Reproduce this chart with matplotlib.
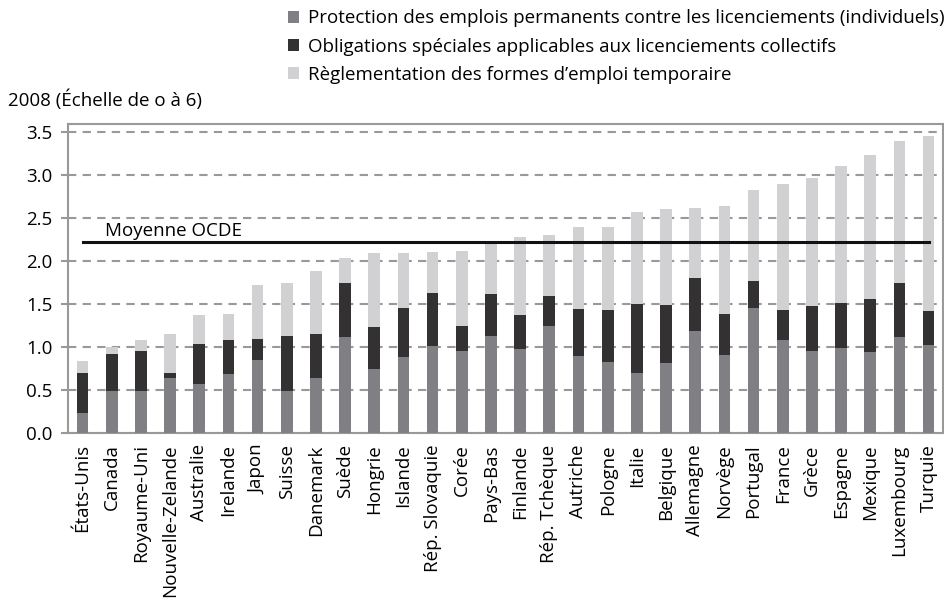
import matplotlib.pyplot as plt

plt.rcParams['font.family'] = ['Open Sans', 'DejaVu Sans']

pays = ["États-Unis", "Canada", "Royaume-Uni", "Nouvelle-Zelande", "Australie",
        "Irelande", "Japon", "Suisse", "Danemark", "Suède", "Hongrie", "Islande",
        "Rép. Slovaquie", "Corée", "Pays-Bas", "Finlande", "Rép. Tchèque",
        "Autriche", "Pologne", "Italie", "Belgique", "Allemagne", "Norvège",
        "Portugal", "France", "Grèce", "Espagne", "Mexique", "Luxembourg", "Turquie"]

# hauteurs cumulées
permanents = [0.23, 0.49, 0.49, 0.64, 0.57, 0.69, 0.85, 0.49, 0.64, 1.12,
              0.75, 0.88, 1.01, 0.95, 1.13, 0.98, 1.24, 0.90, 0.83, 0.70,
              0.81, 1.19, 0.91, 1.46, 1.08, 0.95, 0.99, 0.94, 1.12, 1.03]
cumul_collectifs = [0.70, 0.92, 0.96, 0.70, 1.04, 1.08, 1.09, 1.13, 1.15, 1.74,
                    1.23, 1.45, 1.63, 1.25, 1.62, 1.37, 1.59, 1.44, 1.43, 1.50,
                    1.49, 1.80, 1.39, 1.77, 1.43, 1.48, 1.51, 1.56, 1.75, 1.42]
totaux = [0.84, 1.00, 1.08, 1.15, 1.37, 1.38, 1.72, 1.75, 1.89, 2.04,
          2.09, 2.09, 2.11, 2.12, 2.22, 2.28, 2.30, 2.40, 2.40, 2.57,
          2.60, 2.62, 2.64, 2.83, 2.89, 2.96, 3.11, 3.23, 3.39, 3.45]
moyenne_ocde = 2.22

collectifs = [c - p for c, p in zip(cumul_collectifs, permanents)]
temporaire = [t - c for t, c in zip(totaux, cumul_collectifs)]

series = ["Protection des emplois permanents contre les licenciements (individuels)",
          "Obligations spéciales applicables aux licenciements collectifs",
          "Règlementation des formes d’emploi temporaire"]
couleurs = ["#808084", "#333132", "#d1d1d3"]

fig = plt.figure(figsize=(9.45, 6), dpi=100)
ax = fig.add_axes([0.072, 0.278, 0.926, 0.515])

x = list(range(len(pays)))
w = 0.4
b1 = ax.bar(x, permanents, w, color=couleurs[0], zorder=3)
b2 = ax.bar(x, collectifs, w, bottom=permanents, color=couleurs[1], zorder=3)
b3 = ax.bar(x, temporaire, w, bottom=cumul_collectifs, color=couleurs[2], zorder=3)

ax.plot([x[0], x[-1]], [moyenne_ocde, moyenne_ocde], color="#111111", lw=2.2, zorder=4)
ax.text(0.75, moyenne_ocde + 0.03, "Moyenne OCDE", fontsize=13.5, va="bottom", zorder=5)

ax.set_xlim(-0.5, len(pays) - 0.5)
ax.set_ylim(0, 3.59)
ax.set_yticks([i * 0.5 for i in range(8)])
ax.set_yticklabels([f"{i * 0.5:.1f}" for i in range(8)], fontsize=13.5)
ax.set_xticks(x)
ax.set_xticklabels(pays, rotation=90, fontsize=13.5)
ax.tick_params(axis="x", length=0, pad=8)
ax.tick_params(axis="y", length=5, color="#999999", width=1.5, pad=6)
ax.yaxis.grid(True, linestyle=(0, (4, 3)), color="#999999", lw=1.5, zorder=0)
for s in ax.spines.values():
    s.set_color("#999999")
    s.set_linewidth(1.5)

fig.legend([b1, b2, b3], series, loc="upper left", bbox_to_anchor=(0.297, 0.997),
           frameon=False, fontsize=13.5, handlelength=0.6, handleheight=0.6,
           handletextpad=0.45, labelspacing=0.55, borderaxespad=0)
fig.text(0.008, 1 - 100 / 600, "2008 (Échelle de o à 6)", fontsize=13.5, va="center")

fig.savefig("out.png", dpi=100)
